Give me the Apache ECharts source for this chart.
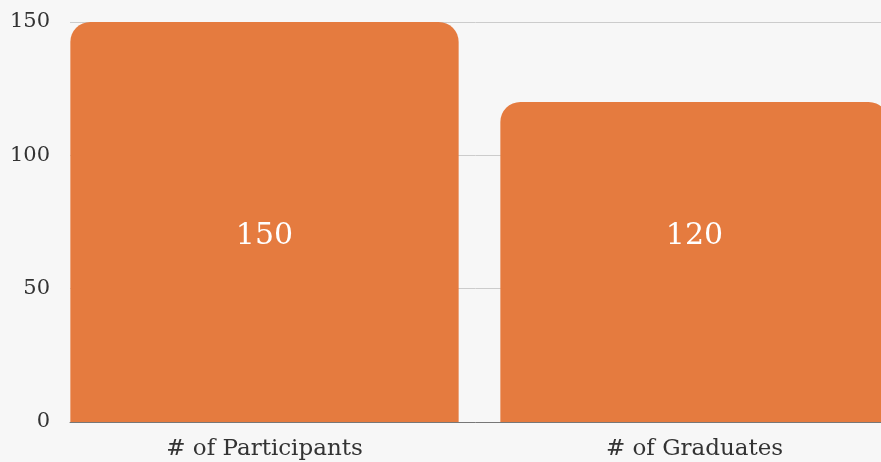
<!DOCTYPE html>
<html>
<head>
<meta charset="utf-8">
<script src="https://cdn.jsdelivr.net/npm/echarts@6/dist/echarts.min.js"></script>
<style>
html,body{margin:0;padding:0;background:#f7f7f7;}
#chart{width:881px;height:462px;}
</style>
</head>
<body>
<div id="chart"></div>
<script>
var categories = ['# of Participants', '# of Graduates'];
var values = [150, 120];
var yTicks = [0, 50, 100, 150];

var FONT = 'DejaVu Serif';
var chart = echarts.init(document.getElementById('chart'));
chart.setOption({
  backgroundColor: '#f7f7f7',
  animation: false,
  grid: [
    {left: 70, right: 0, top: 22, bottom: 40, outerBoundsMode: 'none'},
    {left: 49.5, width: 860, top: 22, bottom: 40, outerBoundsMode: 'none'}
  ],
  xAxis: [
    {gridIndex: 0, type: 'category', data: [''],
     axisLine: {lineStyle: {color: '#777', width: 1}},
     axisTick: {show: false}, axisLabel: {show: false}},
    {gridIndex: 1, type: 'category', data: categories,
     axisLine: {show: false}, axisTick: {show: false},
     axisLabel: {color: '#333', fontFamily: FONT, fontSize: 23, margin: 16}}
  ],
  yAxis: [
    {gridIndex: 0, type: 'value', min: yTicks[0], max: yTicks[yTicks.length - 1], interval: 50,
     axisLine: {show: false}, axisTick: {show: false},
     splitLine: {lineStyle: {color: '#cccccc', width: 1}},
     axisLabel: {color: '#333', fontFamily: FONT, fontSize: 21, margin: 20}},
    {gridIndex: 1, type: 'value', min: yTicks[0], max: yTicks[yTicks.length - 1], interval: 50,
     show: false, splitLine: {show: false}}
  ],
  series: [{
    type: 'bar',
    xAxisIndex: 1, yAxisIndex: 1,
    data: values,
    barCategoryGap: '9.7%',
    itemStyle: {color: '#E57B3F', borderRadius: [20, 20, 0, 0]},
    label: {
      show: true,
      position: ['50%', '100%'],
      offset: [0, -186],
      align: 'center',
      verticalAlign: 'middle',
      color: '#ffffff',
      fontFamily: FONT,
      fontSize: 30
    },
    z: 3
  }]
});
</script>
</body>
</html>
